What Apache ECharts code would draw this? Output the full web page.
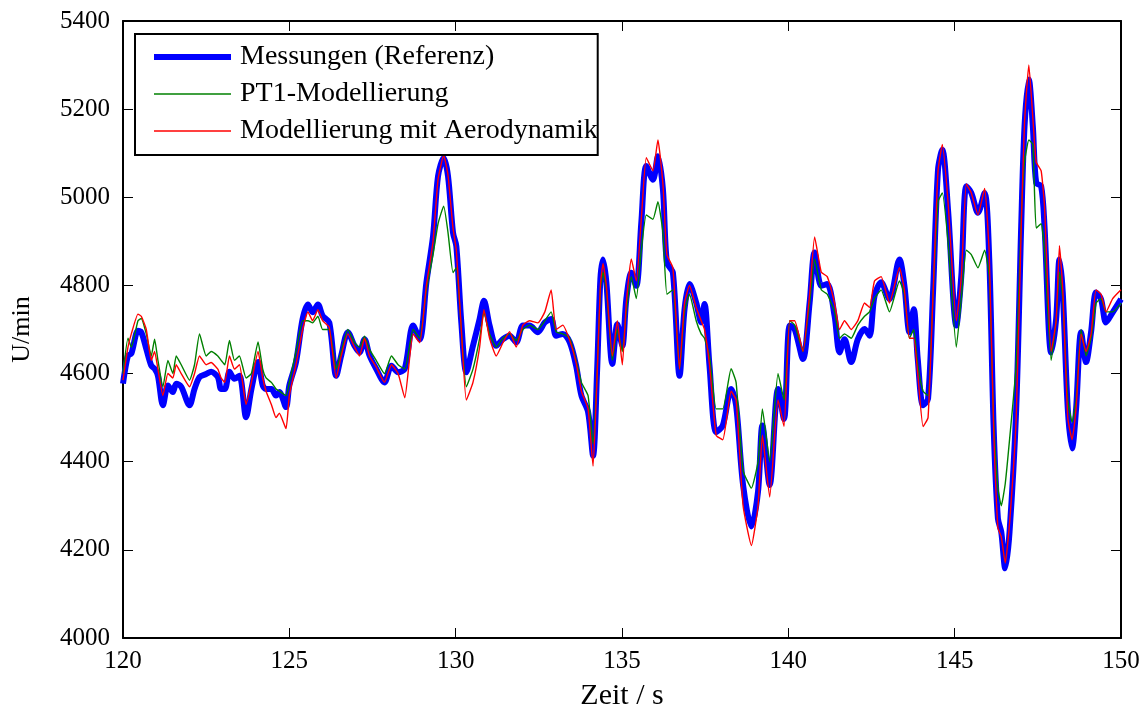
<!DOCTYPE html>
<html>
<head>
<meta charset="utf-8">
<script src="https://cdn.jsdelivr.net/npm/echarts@6/dist/echarts.min.js"></script>
<style>
  html, body { margin: 0; padding: 0; background: #fff; }
  #main { width: 1147px; height: 716px; }
</style>
</head>
<body>
<div id="main"></div>
<script>
// Zeitpunkte (s)
var times = [120.0, 120.15, 120.25, 120.45, 120.55, 120.7, 120.85, 120.95, 121.05, 121.2, 121.35, 121.5, 121.6, 121.75,
  122.0, 122.15, 122.3, 122.5, 122.65, 122.85, 122.95, 123.06, 123.2, 123.35, 123.5, 123.7, 123.86, 124.06, 124.2,
  124.3, 124.46, 124.6, 124.7, 124.9, 125.0, 125.2, 125.4, 125.56, 125.7, 125.86, 126.0,
  126.2, 126.41, 126.56, 126.76, 126.96, 127.11, 127.26, 127.41, 127.61, 127.86, 128.07, 128.27, 128.47, 128.72,
  128.92, 129.12, 129.32, 129.47, 129.64, 129.77, 129.92, 130.02, 130.17, 130.32, 130.52, 130.72, 130.85, 131.02,
  131.22, 131.42, 131.62, 131.82, 132.02,
  132.22, 132.47, 132.68, 132.87, 133.02, 133.22, 133.43, 133.62, 133.78, 133.98, 134.13, 134.25, 134.35, 134.43,
  134.53, 134.71, 134.86, 135.01, 135.13, 135.28, 135.43, 135.58, 135.73, 135.93, 136.08, 136.23, 136.35, 136.53,
  136.73, 136.88, 137.03, 137.23, 137.38, 137.48, 137.63, 137.83, 138.03,
  138.28, 138.43, 138.64, 138.89, 139.09, 139.22, 139.44, 139.69, 139.87, 140.04, 140.19, 140.44, 140.64, 140.79,
  140.99, 141.17, 141.39, 141.54, 141.69, 141.89, 142.09, 142.29, 142.44, 142.59, 142.79, 143.04, 143.34, 143.49,
  143.64, 143.77, 143.89, 144.05,
  144.2, 144.35, 144.5, 144.63, 144.8, 145.05, 145.2, 145.35, 145.5, 145.7, 145.9, 146.04, 146.17, 146.3, 146.4,
  146.52, 146.65, 146.85, 147.0, 147.1, 147.23, 147.35, 147.45, 147.6, 147.7, 147.9, 148.05, 148.15, 148.25, 148.4,
  148.53, 148.65, 148.8, 148.95, 149.1, 149.25, 149.4, 149.55, 149.75, 150.0];

// Messungen (Referenz)
var messung = [4577, 4641, 4645, 4697, 4694, 4656, 4618, 4611, 4595, 4528, 4573, 4558, 4577, 4570,
  4528, 4565, 4592, 4599, 4604, 4592, 4565, 4565, 4604, 4588, 4595, 4501, 4565, 4626, 4573,
  4565, 4565, 4550, 4558, 4524, 4573, 4626, 4724, 4757, 4739, 4757, 4731,
  4716, 4595, 4641, 4694, 4663, 4648, 4678, 4641, 4611, 4580, 4618, 4603, 4611, 4709,
  4678, 4807, 4912, 5048, 5089, 5048, 4920, 4889, 4716, 4603, 4663, 4724, 4765, 4709,
  4663, 4678, 4686, 4671, 4709,
  4709, 4694, 4716, 4724, 4686, 4690, 4671, 4618, 4550, 4513, 4414, 4603, 4814, 4859,
  4807, 4622, 4712, 4663, 4769, 4829, 4799, 4942, 5071, 5040, 5093, 5018, 4852, 4829,
  4595, 4746, 4803, 4761, 4716, 4758, 4618, 4467, 4482,
  4565, 4528, 4347, 4253, 4333, 4482, 4347, 4565, 4497, 4709, 4701, 4633, 4761, 4875,
  4799, 4803, 4731, 4648, 4678, 4626, 4678, 4701, 4686, 4776, 4807, 4769, 4859, 4799,
  4694, 4746, 4633, 4528,
  4543, 4784, 5063, 5108, 4972, 4709, 4822, 5025, 5010, 4965, 5010, 4859, 4482, 4271, 4241,
  4158, 4241, 4520, 4935, 5161, 5267, 5161, 5033, 5025, 4935, 4648, 4724, 4859, 4784, 4520,
  4430, 4520, 4694, 4626, 4694, 4784, 4769, 4716, 4739, 4769];

// PT1-Modellierung
var pt1 = [4600, 4680, 4660, 4720, 4725, 4690, 4640, 4678, 4630, 4570, 4630, 4600, 4640, 4620,
  4585, 4620, 4690, 4640, 4650, 4640, 4630, 4620, 4675, 4630, 4640, 4590, 4600, 4672, 4610,
  4590, 4580, 4565, 4560, 4550, 4580, 4650, 4720, 4720, 4715, 4730, 4700,
  4700, 4610, 4650, 4700, 4670, 4660, 4685, 4655, 4630, 4600, 4640, 4620, 4610, 4700,
  4680, 4790, 4870, 4940, 4980, 4920, 4829, 4840, 4700, 4570, 4610, 4680, 4740, 4690,
  4660, 4680, 4690, 4675, 4700,
  4710, 4700, 4720, 4740, 4695, 4690, 4680, 4630, 4580, 4550, 4440, 4600, 4790, 4830,
  4790, 4630, 4700, 4650, 4740, 4820, 4770, 4880, 4960, 4950, 4990, 4920, 4780, 4790,
  4610, 4740, 4780, 4720, 4690, 4680, 4640, 4520, 4520,
  4611, 4580, 4380, 4340, 4400, 4520, 4400, 4600, 4540, 4720, 4710, 4650, 4760, 4860,
  4790, 4780, 4740, 4680, 4690, 4680, 4710, 4730, 4740, 4770, 4790, 4740, 4810, 4780,
  4680, 4700, 4620, 4560,
  4550, 4780, 4990, 5010, 4900, 4660, 4770, 4880, 4870, 4840, 4880, 4820, 4500, 4340, 4300,
  4350, 4450, 4620, 4950, 5080, 5130, 5120, 4930, 4940, 4880, 4630, 4720, 4830, 4770, 4540,
  4490, 4540, 4700, 4640, 4680, 4760, 4770, 4740, 4740, 4760];

// Modellierung mit Aerodynamik
var aero = [4585, 4660, 4690, 4735, 4730, 4700, 4630, 4650, 4610, 4550, 4600, 4590, 4620, 4600,
  4570, 4600, 4640, 4620, 4625, 4610, 4590, 4580, 4640, 4610, 4620, 4530, 4580, 4650, 4590,
  4560, 4530, 4500, 4510, 4475, 4550, 4620, 4700, 4740, 4720, 4745, 4720,
  4705, 4590, 4640, 4690, 4660, 4640, 4680, 4640, 4615, 4580, 4620, 4600, 4545, 4690,
  4670, 4800, 4900, 5040, 5095, 5050, 4930, 4880, 4700, 4540, 4580, 4660, 4745, 4680,
  4640, 4670, 4695, 4660, 4710,
  4720, 4715, 4740, 4790, 4700, 4710, 4675, 4625, 4560, 4520, 4390, 4590, 4800, 4850,
  4800, 4640, 4720, 4620, 4760, 4860, 4810, 4950, 5090, 5060, 5130, 5030, 4870, 4840,
  4610, 4760, 4800, 4750, 4720, 4700, 4620, 4460, 4450,
  4560, 4540, 4300, 4210, 4300, 4460, 4320, 4540, 4480, 4720, 4720, 4650, 4780, 4910,
  4830, 4820, 4760, 4700, 4720, 4700, 4720, 4760, 4750, 4810, 4820, 4760, 4840, 4790,
  4680, 4680, 4600, 4480,
  4500, 4780, 5060, 5120, 4990, 4720, 4820, 5030, 5010, 4960, 5020, 4870, 4480, 4250, 4230,
  4170, 4260, 4500, 4930, 5170, 5300, 5180, 5080, 5060, 4980, 4650, 4720, 4890, 4790, 4500,
  4450, 4520, 4690, 4650, 4690, 4790, 4780, 4740, 4770, 4790];

var xTicks = [120, 125, 130, 135, 140, 145, 150];
var yTicks = [4000, 4200, 4400, 4600, 4800, 5000, 5200, 5400];

function pairs(vals) {
  return times.map(function (t, i) { return [t, vals[i]]; });
}

var serif = '"Liberation Serif", "DejaVu Serif", serif';
var chart = echarts.init(document.getElementById('main'));

var option = {
  animation: false,
  backgroundColor: '#fff',
  grid: { left: 123, right: 26, top: 21, bottom: 76, containLabel: false },
  legend: {
    left: 135, top: 34,
    orient: 'vertical',
    backgroundColor: '#fff',
    borderColor: '#000',
    borderWidth: 2,
    borderRadius: 0,
    padding: [9, 0, 10, 16],
    itemGap: 9,
    itemWidth: 77,
    itemHeight: 14,
    textStyle: { fontFamily: serif, fontSize: 28, color: '#000', padding: [0, 0, 0, 4] },
    data: [
      { name: 'Messungen (Referenz)', itemStyle: { opacity: 0 }, lineStyle: { width: 6, color: '#0000ff' } },
      { name: 'PT1-Modellierung', itemStyle: { opacity: 0 }, lineStyle: { width: 1.4, color: '#008000' } },
      { name: 'Modellierung mit Aerodynamik', itemStyle: { opacity: 0 }, lineStyle: { width: 1.4, color: '#ff0000' } }
    ]
  },
  xAxis: [{
    type: 'value', min: xTicks[0], max: xTicks[xTicks.length - 1], interval: 5,
    name: 'Zeit / s', nameLocation: 'middle', nameGap: 43,
    nameTextStyle: { fontFamily: serif, fontSize: 30, color: '#000' },
    axisLine: { lineStyle: { color: '#000', width: 2 } },
    axisTick: { inside: true, length: 10, lineStyle: { color: '#000', width: 1 } },
    axisLabel: { fontFamily: serif, fontSize: 25, color: '#000', margin: 11 },
    splitLine: { show: false }
  }, {
    type: 'value', position: 'top', min: xTicks[0], max: xTicks[xTicks.length - 1], interval: 5,
    axisLine: { lineStyle: { color: '#000', width: 2 } },
    axisTick: { inside: true, length: 10, lineStyle: { color: '#000', width: 1 } },
    axisLabel: { show: false },
    splitLine: { show: false }
  }],
  yAxis: [{
    type: 'value', min: yTicks[0], max: yTicks[yTicks.length - 1], interval: 200,
    name: 'U/min', nameLocation: 'middle', nameGap: 88, nameRotate: 90,
    nameTextStyle: { fontFamily: serif, fontSize: 26, color: '#000' },
    axisLine: { show: true, lineStyle: { color: '#000', width: 2 } },
    axisTick: { show: true, inside: true, length: 10, lineStyle: { color: '#000', width: 1 } },
    axisLabel: { fontFamily: serif, fontSize: 25, color: '#000', margin: 13,
      formatter: function (v) { return String(v); } },
    splitLine: { show: false }
  }, {
    type: 'value', position: 'right', min: yTicks[0], max: yTicks[yTicks.length - 1], interval: 200,
    axisLine: { show: true, lineStyle: { color: '#000', width: 2 } },
    axisTick: { show: true, inside: true, length: 10, lineStyle: { color: '#000', width: 1 } },
    axisLabel: { show: false },
    splitLine: { show: false }
  }],
  series: [{
    name: 'Messungen (Referenz)', type: 'line', data: pairs(messung),
    showSymbol: false, symbol: 'none', smooth: 0.3,
    lineStyle: { color: '#0000ff', width: 6 }, itemStyle: { color: '#0000ff' }
  }, {
    name: 'PT1-Modellierung', type: 'line', data: pairs(pt1),
    showSymbol: false, symbol: 'none', smooth: 0.15,
    lineStyle: { color: '#008000', width: 1.4 }, itemStyle: { color: '#008000' }
  }, {
    name: 'Modellierung mit Aerodynamik', type: 'line', data: pairs(aero),
    showSymbol: false, symbol: 'none', smooth: 0.15,
    lineStyle: { color: '#ff0000', width: 1.4 }, itemStyle: { color: '#ff0000' }
  }]
};
chart.setOption(option);
</script>
</body>
</html>
